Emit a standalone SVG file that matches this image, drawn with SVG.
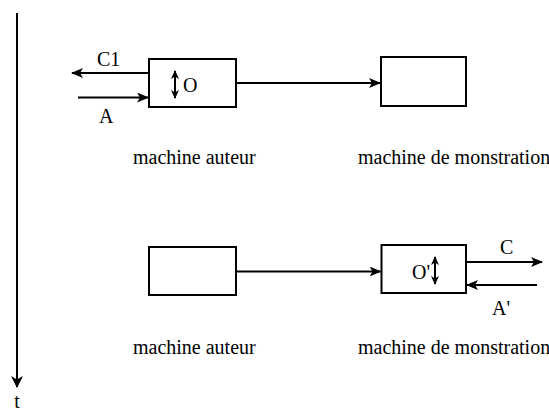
<svg xmlns="http://www.w3.org/2000/svg" width="549" height="411" viewBox="0 0 549 411">
<style>
.box{fill:#fff;stroke:#000;stroke-width:2}
.ln{fill:none;stroke:#000;stroke-width:2}
.dbl{fill:none;stroke:#000;stroke-width:2;marker-start:url(#sm);marker-end:url(#sm)}
.t{font-family:'Liberation Serif','DejaVu Serif',serif;font-size:20px;fill:#000}
</style>
<defs>
<marker id="ah" viewBox="0 0 12 10" refX="11" refY="5" markerWidth="12" markerHeight="10" markerUnits="userSpaceOnUse" orient="auto">
<path d="M0,0 L12,5 L0,10 L3,5 z" fill="#000"/>
</marker>
<marker id="bh" viewBox="0 0 12 12" refX="11" refY="6" markerWidth="13" markerHeight="12" markerUnits="userSpaceOnUse" orient="auto">
<path d="M0,0 L12,6 L0,12 L3.5,6 z" fill="#000"/>
</marker>
<marker id="sm" viewBox="0 0 9 8" refX="8" refY="4" markerWidth="9" markerHeight="8" markerUnits="userSpaceOnUse" orient="auto-start-reverse">
<path d="M0,0 L9,4 L0,8 L2.5,4 z" fill="#000"/>
</marker>
</defs>

<g id="timeline">
<line class="ln" x1="17" y1="13" x2="17" y2="387" marker-end="url(#bh)"/>
<text class="t" x="17" y="408" text-anchor="middle" font-family="Liberation Serif, serif">t</text>
</g>

<g id="connectors">
<line class="ln" x1="236" y1="83" x2="380" y2="83" marker-end="url(#ah)"/>
<line class="ln" x1="149" y1="73" x2="72" y2="73" marker-end="url(#ah)"/>
<line class="ln" x1="78" y1="97.5" x2="148" y2="97.5" marker-end="url(#ah)"/>
<line class="ln" x1="236" y1="271.5" x2="380.5" y2="271.5" marker-end="url(#ah)"/>
<line class="ln" x1="466" y1="262" x2="542" y2="262" marker-end="url(#ah)"/>
<line class="ln" x1="537" y1="285" x2="467" y2="285" marker-end="url(#ah)"/>
<text class="t" x="97" y="65.5">C1</text>
<text class="t" x="99" y="123">A</text>
<text class="t" x="500" y="254">C</text>
<text class="t" x="492" y="315">A'</text>
</g>

<g id="top-auteur">
<rect class="box" x="149" y="59" width="87" height="48"/>
<line class="dbl" x1="175" y1="71" x2="175" y2="98"/>
<text class="t" x="183" y="92">O</text>
<text class="t" x="133" y="164">machine auteur</text>
</g>

<g id="top-monstration">
<rect class="box" x="381" y="57" width="85" height="49"/>
<text class="t" x="358" y="164">machine de monstration</text>
</g>

<g id="bottom-auteur">
<rect class="box" x="149" y="247" width="87" height="48"/>
<text class="t" x="133" y="354">machine auteur</text>
</g>

<g id="bottom-monstration">
<rect class="box" x="381.5" y="245" width="84.5" height="48"/>
<text class="t" x="412" y="279">O'</text>
<line class="dbl" x1="435" y1="257" x2="435" y2="284"/>
<text class="t" x="358" y="354">machine de monstration</text>
</g>
</svg>
